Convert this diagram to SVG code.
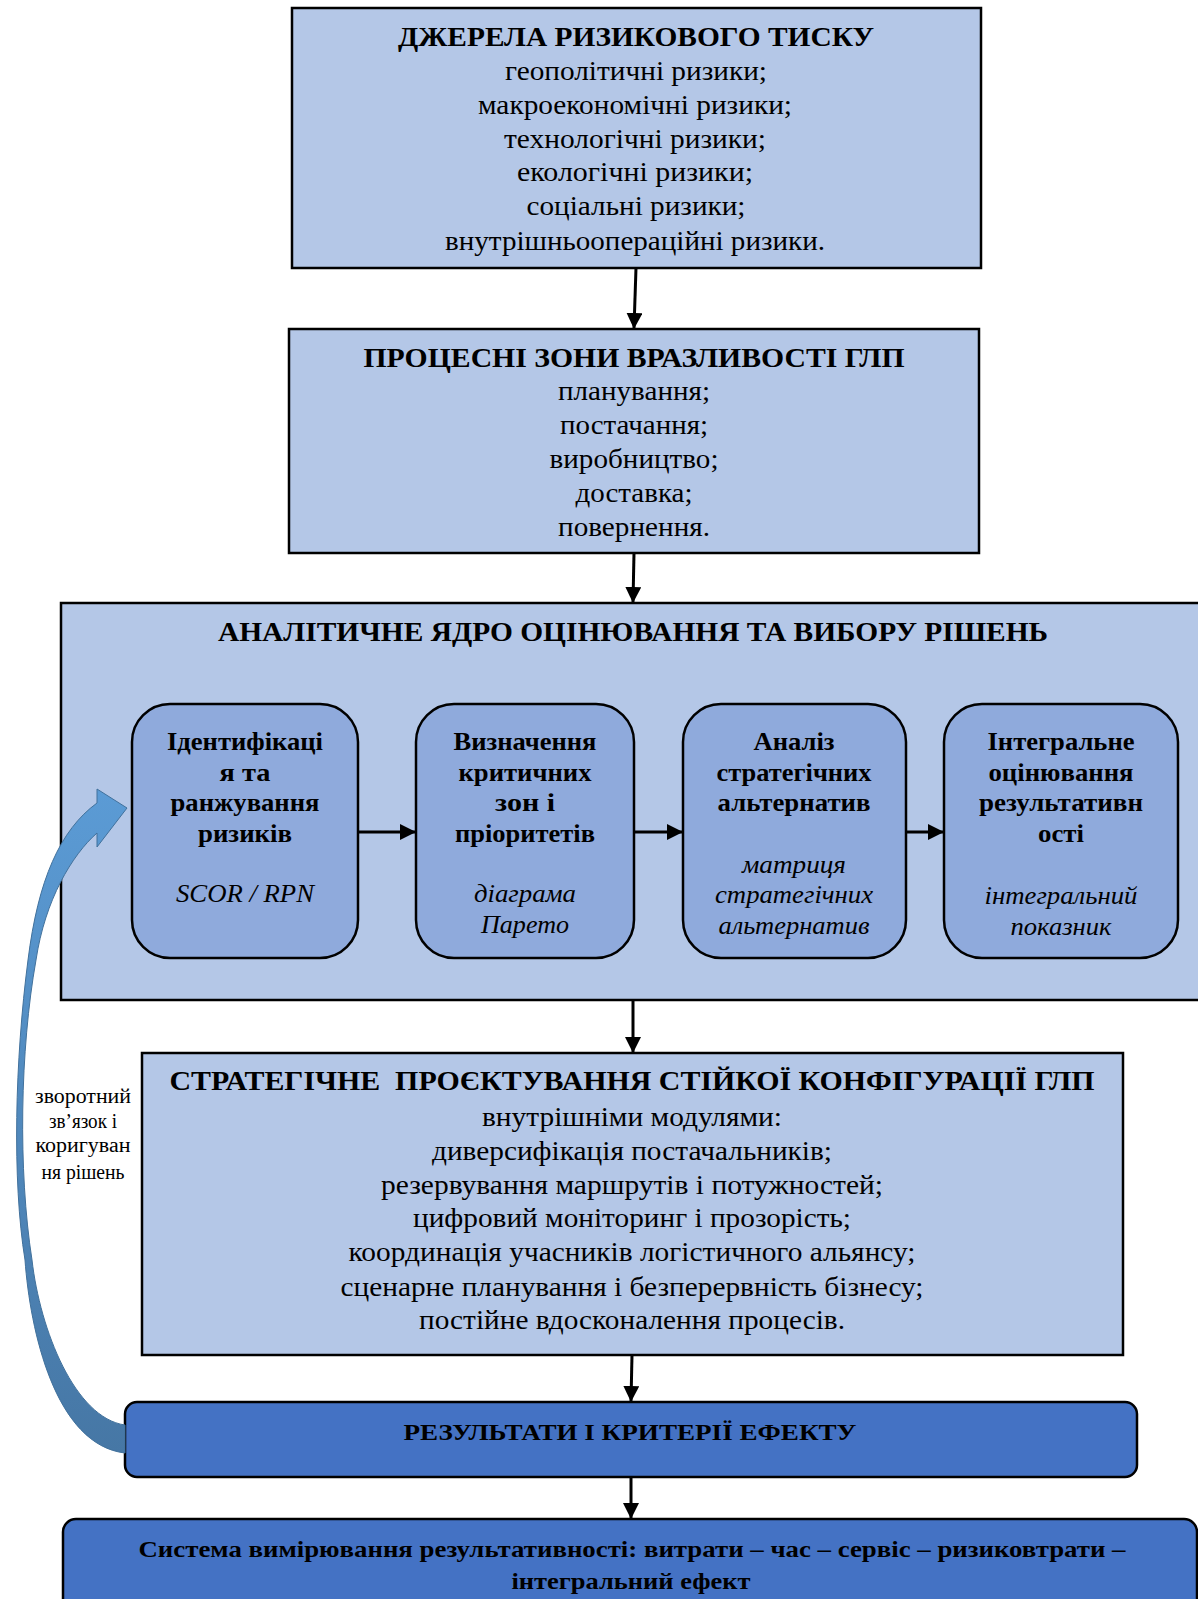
<svg xmlns="http://www.w3.org/2000/svg" width="1198" height="1599" viewBox="0 0 1198 1599">
<style>
.box{fill:#B4C7E7;stroke:#000;stroke-width:2.5}
.inner{fill:#8FAADC;stroke:#000;stroke-width:2.5}
.dark{fill:#4472C4;stroke:#000;stroke-width:2.5}
text{font-family:"Liberation Serif","Times New Roman",serif;fill:#000;text-anchor:middle}
.h{font-size:28px;font-weight:bold}
.t{font-size:28px}
.ib{font-size:26px;font-weight:bold}
.ii{font-size:26px;font-style:italic}
.h2{font-size:24px;font-weight:bold}
.fb{font-size:20px}
.conn{stroke:#000;stroke-width:3;fill:none;marker-end:url(#ah)}
</style>
<defs>
<marker id="ah" markerUnits="userSpaceOnUse" markerWidth="16" markerHeight="16" viewBox="0 0 16 16" refX="15" refY="8" orient="auto"><path d="M0,0 L16,8 L0,16 z" fill="#000"/></marker>
<linearGradient id="fbg" x1="0" y1="0" x2="0" y2="1"><stop offset="0" stop-color="#5B9BD5"/><stop offset="1" stop-color="#4677A5"/></linearGradient>
</defs>

<g id="sources">
<rect class="box" x="292" y="8" width="689" height="260"/>
<text class="h" x="636" y="46" textLength="476" lengthAdjust="spacingAndGlyphs">ДЖЕРЕЛА РИЗИКОВОГО ТИСКУ</text>
<text class="t" x="636" y="80" textLength="262" lengthAdjust="spacingAndGlyphs">геополітичні ризики;</text>
<text class="t" x="635" y="114" textLength="314" lengthAdjust="spacingAndGlyphs">макроекономічні ризики;</text>
<text class="t" x="635" y="148" textLength="262" lengthAdjust="spacingAndGlyphs">технологічні ризики;</text>
<text class="t" x="635" y="181" textLength="236" lengthAdjust="spacingAndGlyphs">екологічні ризики;</text>
<text class="t" x="636" y="215" textLength="219" lengthAdjust="spacingAndGlyphs">соціальні ризики;</text>
<text class="t" x="635" y="250" textLength="380" lengthAdjust="spacingAndGlyphs">внутрішньоопераційні ризики.</text>
</g>

<g id="zones">
<rect class="box" x="289" y="329" width="690" height="224"/>
<text class="h" x="634" y="367" textLength="541" lengthAdjust="spacingAndGlyphs">ПРОЦЕСНІ ЗОНИ ВРАЗЛИВОСТІ ГЛП</text>
<text class="t" x="634" y="400" textLength="152" lengthAdjust="spacingAndGlyphs">планування;</text>
<text class="t" x="634" y="434" textLength="148" lengthAdjust="spacingAndGlyphs">постачання;</text>
<text class="t" x="634" y="468" textLength="169" lengthAdjust="spacingAndGlyphs">виробництво;</text>
<text class="t" x="634" y="502" textLength="117" lengthAdjust="spacingAndGlyphs">доставка;</text>
<text class="t" x="634" y="536" textLength="152" lengthAdjust="spacingAndGlyphs">повернення.</text>
</g>

<g id="core">
<rect class="box" x="61" y="603" width="1140" height="397"/>
<text class="h" x="633" y="641" textLength="830" lengthAdjust="spacingAndGlyphs">АНАЛІТИЧНЕ ЯДРО ОЦІНЮВАННЯ ТА ВИБОРУ РІШЕНЬ</text>
</g>

<g id="identify">
<rect class="inner" x="132" y="704" width="226" height="254" rx="38"/>
<text class="ib" x="245" y="750" textLength="156" lengthAdjust="spacingAndGlyphs">Ідентифікаці</text>
<text class="ib" x="245" y="781" textLength="51" lengthAdjust="spacingAndGlyphs">я та</text>
<text class="ib" x="245" y="811" textLength="149" lengthAdjust="spacingAndGlyphs">ранжування</text>
<text class="ib" x="245" y="842" textLength="94" lengthAdjust="spacingAndGlyphs">ризиків</text>
<text class="ii" x="245" y="902" textLength="138" lengthAdjust="spacingAndGlyphs">SCOR / RPN</text>
</g>

<g id="critical">
<rect class="inner" x="416" y="704" width="218" height="254" rx="38"/>
<text class="ib" x="525" y="750" textLength="143" lengthAdjust="spacingAndGlyphs">Визначення</text>
<text class="ib" x="525" y="781" textLength="133" lengthAdjust="spacingAndGlyphs">критичних</text>
<text class="ib" x="525" y="811" textLength="60" lengthAdjust="spacingAndGlyphs">зон і</text>
<text class="ib" x="525" y="842" textLength="140" lengthAdjust="spacingAndGlyphs">пріоритетів</text>
<text class="ii" x="525" y="902" textLength="102" lengthAdjust="spacingAndGlyphs">діаграма</text>
<text class="ii" x="525" y="933" textLength="88" lengthAdjust="spacingAndGlyphs">Парето</text>
</g>

<g id="alternatives">
<rect class="inner" x="683" y="704" width="223" height="254" rx="38"/>
<text class="ib" x="794" y="750" textLength="81" lengthAdjust="spacingAndGlyphs">Аналіз</text>
<text class="ib" x="794" y="781" textLength="155" lengthAdjust="spacingAndGlyphs">стратегічних</text>
<text class="ib" x="794" y="811" textLength="153" lengthAdjust="spacingAndGlyphs">альтернатив</text>
<text class="ii" x="794" y="873" textLength="104" lengthAdjust="spacingAndGlyphs">матриця</text>
<text class="ii" x="794" y="903" textLength="158" lengthAdjust="spacingAndGlyphs">стратегічних</text>
<text class="ii" x="794" y="934" textLength="151" lengthAdjust="spacingAndGlyphs">альтернатив</text>
</g>

<g id="integral">
<rect class="inner" x="944" y="704" width="234" height="254" rx="38"/>
<text class="ib" x="1061" y="750" textLength="147" lengthAdjust="spacingAndGlyphs">Інтегральне</text>
<text class="ib" x="1061" y="781" textLength="145" lengthAdjust="spacingAndGlyphs">оцінювання</text>
<text class="ib" x="1061" y="811" textLength="164" lengthAdjust="spacingAndGlyphs">результативн</text>
<text class="ib" x="1061" y="842" textLength="46" lengthAdjust="spacingAndGlyphs">ості</text>
<text class="ii" x="1061" y="904" textLength="153" lengthAdjust="spacingAndGlyphs">інтегральний</text>
<text class="ii" x="1061" y="935" textLength="101" lengthAdjust="spacingAndGlyphs">показник</text>
</g>

<g id="design">
<rect class="box" x="142" y="1053" width="981" height="302"/>
<text class="h" x="632" y="1090" textLength="925" lengthAdjust="spacingAndGlyphs" xml:space="preserve">СТРАТЕГІЧНЕ  ПРОЄКТУВАННЯ СТІЙКОЇ КОНФІГУРАЦІЇ ГЛП</text>
<text class="t" x="632" y="1126" textLength="300" lengthAdjust="spacingAndGlyphs">внутрішніми модулями:</text>
<text class="t" x="632" y="1160" textLength="400" lengthAdjust="spacingAndGlyphs">диверсифікація постачальників;</text>
<text class="t" x="632" y="1194" textLength="502" lengthAdjust="spacingAndGlyphs">резервування маршрутів і потужностей;</text>
<text class="t" x="632" y="1227" textLength="438" lengthAdjust="spacingAndGlyphs">цифровий моніторинг і прозорість;</text>
<text class="t" x="632" y="1261" textLength="567" lengthAdjust="spacingAndGlyphs">координація учасників логістичного альянсу;</text>
<text class="t" x="632" y="1296" textLength="583" lengthAdjust="spacingAndGlyphs">сценарне планування і безперервність бізнесу;</text>
<text class="t" x="632" y="1329" textLength="426" lengthAdjust="spacingAndGlyphs">постійне вдосконалення процесів.</text>
</g>

<g id="results">
<rect class="dark" x="125" y="1402" width="1012" height="75" rx="12"/>
<text class="h2" x="630" y="1440" textLength="453" lengthAdjust="spacingAndGlyphs">РЕЗУЛЬТАТИ І КРИТЕРІЇ ЕФЕКТУ</text>
</g>

<g id="measurement">
<rect class="dark" x="63" y="1519" width="1134" height="95" rx="13"/>
<text class="h2" x="632" y="1557" textLength="987" lengthAdjust="spacingAndGlyphs">Система вимірювання результативності: витрати – час – сервіс – ризиковтрати –</text>
<text class="h2" x="631" y="1589" textLength="239" lengthAdjust="spacingAndGlyphs">інтегральний ефект</text>
</g>

<g id="feedback">
<path d="M97,803 C60,830 38,880 28,960 C15,1060 12,1180 25,1260 C30,1330 55,1445 125,1453 L125,1425 C75,1418 40,1330 32,1260 C18,1170 20,1050 36,960 C45,900 72,855 97,833 L97,847 L127,808 L97,789 Z" fill="url(#fbg)" stroke="#41719C" stroke-width="1"/>
<text class="fb" x="83" y="1103" textLength="96" lengthAdjust="spacingAndGlyphs">зворотний</text>
<text class="fb" x="83" y="1128" textLength="68" lengthAdjust="spacingAndGlyphs">зв’язок і</text>
<text class="fb" x="83" y="1152" textLength="95" lengthAdjust="spacingAndGlyphs">коригуван</text>
<text class="fb" x="83" y="1179" textLength="83" lengthAdjust="spacingAndGlyphs">ня рішень</text>
</g>

<g id="connectors">
<line class="conn" x1="636" y1="268" x2="634" y2="328"/>
<line class="conn" x1="634" y1="553" x2="633" y2="602"/>
<line class="conn" x1="633" y1="1000" x2="633" y2="1052"/>
<line class="conn" x1="632" y1="1355" x2="631" y2="1401"/>
<line class="conn" x1="631" y1="1477" x2="631" y2="1518"/>
<line class="conn" x1="358" y1="832" x2="415" y2="832"/>
<line class="conn" x1="634" y1="832" x2="682" y2="832"/>
<line class="conn" x1="906" y1="832" x2="943" y2="832"/>
</g>
</svg>
